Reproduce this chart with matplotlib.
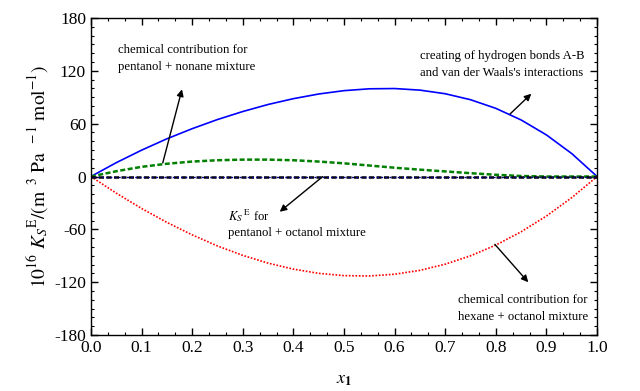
import matplotlib
matplotlib.use("Agg")
import matplotlib.pyplot as plt
from matplotlib.ticker import MultipleLocator, AutoMinorLocator, FormatStrFormatter

plt.rcParams['font.family'] = ['Liberation Serif', 'DejaVu Serif']
plt.rcParams['mathtext.fontset'] = 'stix'
plt.rcParams['axes.unicode_minus'] = False

# mole fraction of pentanol
x1 = [0.0, 0.05, 0.1, 0.15, 0.2, 0.25, 0.3, 0.35, 0.4, 0.45, 0.5,
      0.55, 0.6, 0.65, 0.7, 0.75, 0.8, 0.85, 0.9, 0.95, 1.0]

# creating of hydrogen bonds A-B and van der Waals's interactions
hbond = [0, 15.7, 29.9, 42.8, 54.3, 64.7, 73.8, 81.8, 88.4, 93.7, 97.5,
         99.6, 99.9, 98.1, 94.0, 87.2, 77.4, 64.2, 47.2, 26.0, 0]
# chemical contribution, pentanol + nonane
chem_nonane = [0, 6, 11, 14.5, 17, 18.5, 19.2, 19.2, 18.5, 17, 15,
               12.5, 10, 7.8, 5.8, 3.8, 2.0, 0.6, 0, 0, 0]
# K_S^E, pentanol + octanol
kse_octanol = [0, 0, 0, 0, 0, 0, 0, 0, 0, 0, 0,
               0, 0, 0, 0, 0, 0, 0, 0, 0, 0]
# chemical contribution, hexane + octanol
chem_hexane = [0, -18.8, -36.2, -52.0, -66.2, -78.8, -89.5, -98.3, -105.1, -109.9, -112.5,
               -112.9, -110.9, -106.5, -99.5, -90.0, -77.8, -62.7, -44.8, -23.9, 0]

fig = plt.figure(figsize=(6.4, 3.91), dpi=100)
ax = fig.add_axes([0.142, 0.143, 0.791, 0.811])

ax.plot(x1, hbond, color='blue', lw=1.2)
ax.plot(x1, chem_nonane, color='green', lw=1.8, ls=(0, (2, 1)))
ax.plot(x1, chem_hexane, color='red', lw=1.2, ls=(0, (1, 1)))
ax.plot(x1, kse_octanol, color='black', lw=1.8, ls=(0, (2, 1)))
ax.plot(x1, kse_octanol, color='navy', lw=1.0, ls=(1.5, (1.5, 1.5)))

ax.set_xlim(0, 1)
ax.set_ylim(-180, 180)
ax.xaxis.set_major_locator(MultipleLocator(0.1))
ax.xaxis.set_minor_locator(AutoMinorLocator(3))
ax.yaxis.set_major_locator(MultipleLocator(60))
ax.yaxis.set_minor_locator(AutoMinorLocator(6))
ax.xaxis.set_major_formatter(FormatStrFormatter('%.1f'))
ax.tick_params(which='both', direction='in', top=True, right=True, labelsize=12.5)
ax.tick_params(which='major', length=5, width=1)
ax.tick_params(which='minor', length=2.5, width=0.8)
for s in ax.spines.values():
    s.set_linewidth(1)

ax.set_xlabel(r'$x_\mathbf{1}$', fontsize=13, labelpad=11)
ax.set_ylabel(r'$10^{16}\ K_S{}^{\mathrm{E}}/(\mathrm{m}^{\ \ 3}\ \mathrm{Pa}^{\ \ -1}\ \mathrm{mol}^{-1})$',
              fontsize=14, labelpad=2)

arrow = dict(arrowstyle='-|>', color='black', lw=1, mutation_scale=10,
             shrinkA=0, shrinkB=0)
fs = 9.2
ax.text(0.053, 134, 'chemical contribution for\npentanol + nonane mixture',
        fontsize=fs, va='center', linespacing=1.5)
ax.annotate('', xy=(0.18, 99), xytext=(0.142, 15.5), arrowprops=arrow)

ax.text(0.65, 127, "creating of hydrogen bonds A-B\nand van der Waals's interactions",
        fontsize=fs, va='center', linespacing=1.5)
ax.annotate('', xy=(0.87, 94), xytext=(0.828, 71), arrowprops=arrow)

ax.text(0.27, -53, r'$K_S$$^{\ \mathrm{E}}$ for' + '\npentanol + octanol mixture',
        fontsize=fs, va='center', linespacing=1.4)
ax.annotate('', xy=(0.373, -40), xytext=(0.458, 0), arrowprops=arrow)

ax.text(0.725, -150, 'chemical contribution for\nhexane + octanol mixture',
        fontsize=fs, va='center', linespacing=1.5)
ax.annotate('', xy=(0.864, -120), xytext=(0.798, -77), arrowprops=arrow)

fig.savefig('out.png', dpi=100)
